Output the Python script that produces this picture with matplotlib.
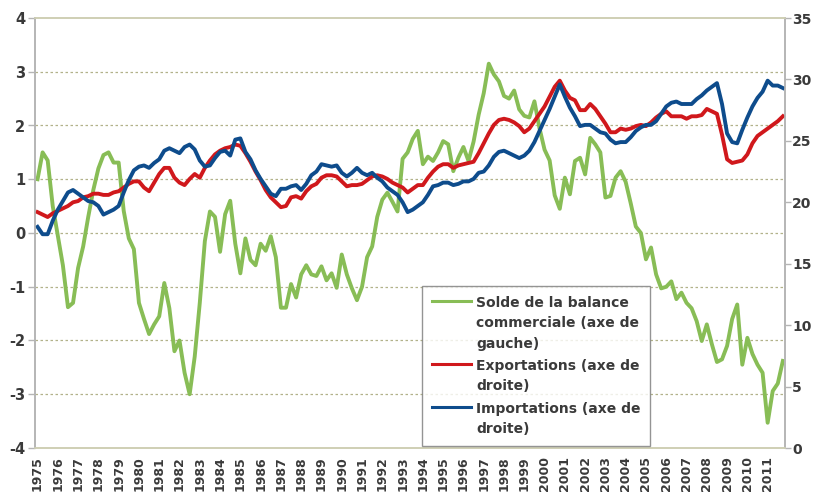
import matplotlib
matplotlib.use("Agg")
import matplotlib.pyplot as plt
import numpy as np

plt.rcParams["axes.unicode_minus"] = False

years = list(range(1975, 2012))
tick_labels = [str(y) for y in years]

solde = [1.0, 1.5, 1.35, 0.5, -0.05, -0.6, -1.38, -1.3, -0.65, -0.25,
         0.3, 0.8, 1.2, 1.45, 1.5, 1.31, 1.31, 0.41, -0.1, -0.3,
         -1.3, -1.6, -1.88, -1.7, -1.55, -0.93, -1.4, -2.2, -2.0, -2.6,
         -3.0, -2.3, -1.3, -0.15, 0.4, 0.3, -0.35, 0.35, 0.6, -0.2,
         -0.75, -0.1, -0.5, -0.6, -0.2, -0.33, -0.06, -0.45, -1.39, -1.39,
         -0.95, -1.2, -0.77, -0.6, -0.77, -0.8, -0.62, -0.88, -0.75, -1.02,
         -0.4, -0.77, -1.03, -1.25, -1.0, -0.45, -0.25, 0.3, 0.62, 0.75,
         0.58, 0.4, 1.38, 1.5, 1.75, 1.9, 1.28, 1.42, 1.34, 1.5,
         1.71, 1.65, 1.15, 1.4, 1.6, 1.34, 1.7, 2.2, 2.6, 3.15,
         2.95, 2.82, 2.55, 2.5, 2.65, 2.3, 2.18, 2.15, 2.45, 1.95,
         1.55, 1.35, 0.7, 0.45, 1.03, 0.72, 1.34, 1.4, 1.09, 1.77,
         1.65, 1.5, 0.66, 0.69, 1.03, 1.15, 0.95, 0.55, 0.12, 0.0,
         -0.49, -0.27, -0.77, -1.03, -1.0, -0.9, -1.23, -1.11, -1.3, -1.4,
         -1.64, -2.01, -1.7, -2.07, -2.4, -2.35, -2.1, -1.6, -1.33, -2.45,
         -1.95, -2.25, -2.45, -2.6, -3.53, -2.94, -2.8, -2.38]

exportations = [19.2, 19.0, 18.8, 19.1, 19.3, 19.5, 19.7, 20.0, 20.1, 20.4,
                20.5, 20.7, 20.7, 20.6, 20.6, 20.8, 20.9, 21.2, 21.5, 21.7,
                21.7, 21.2, 20.9, 21.6, 22.3, 22.8, 22.8, 22.0, 21.6, 21.4,
                21.9, 22.3, 22.0, 22.8, 23.4, 23.9, 24.2, 24.4, 24.5, 24.7,
                24.6, 24.0, 23.3, 22.5, 21.8, 21.0, 20.4, 20.0, 19.6, 19.7,
                20.4, 20.5, 20.3, 20.9, 21.3, 21.5, 22.0, 22.2, 22.2, 22.1,
                21.7, 21.3, 21.4, 21.4, 21.5, 21.8, 22.1, 22.2, 22.1, 21.9,
                21.6, 21.4, 21.2, 20.8, 21.1, 21.4, 21.4, 22.0, 22.5, 22.9,
                23.1, 23.1, 22.8, 23.0, 23.1, 23.2, 23.3, 24.0, 24.8, 25.6,
                26.3, 26.7, 26.8, 26.7, 26.5, 26.2, 25.7, 26.0, 26.6, 27.2,
                27.8, 28.6, 29.4, 29.9, 29.1, 28.5, 28.3, 27.5, 27.5, 28.0,
                27.6, 27.0, 26.4, 25.7, 25.7, 26.0, 25.9, 26.0, 26.2, 26.3,
                26.2, 26.5, 26.9, 27.2, 27.4, 27.0, 27.0, 27.0, 26.8, 27.0,
                27.0, 27.1, 27.6, 27.4, 27.2, 25.5, 23.5, 23.2, 23.3, 23.4,
                23.9, 24.8, 25.4, 25.7, 26.0, 26.3, 26.6, 27.0]

importations = [18.0, 17.4, 17.4, 18.5, 19.4, 20.1, 20.8, 21.0, 20.7, 20.4,
                20.1, 20.0, 19.7, 19.0, 19.2, 19.4, 19.7, 20.8, 21.8, 22.6,
                22.9, 23.0, 22.8, 23.2, 23.5, 24.2, 24.4, 24.2, 24.0, 24.5,
                24.7, 24.3, 23.4, 22.9, 23.0, 23.6, 24.1, 24.2, 23.8, 25.1,
                25.2, 24.1, 23.5, 22.6, 21.9, 21.3, 20.7, 20.5, 21.1, 21.1,
                21.3, 21.4, 21.0, 21.5, 22.2, 22.5, 23.1, 23.0, 22.9, 23.0,
                22.4, 22.1, 22.4, 22.8, 22.4, 22.2, 22.4, 22.0, 21.7, 21.2,
                20.9, 20.6, 20.0, 19.2, 19.4, 19.7, 20.0, 20.6, 21.3, 21.4,
                21.6, 21.6, 21.4, 21.5, 21.7, 21.7, 21.9, 22.4, 22.5, 23.0,
                23.7, 24.1, 24.2, 24.0, 23.8, 23.6, 23.8, 24.2, 24.9, 25.8,
                26.7, 27.6, 28.6, 29.6, 28.6, 27.7, 27.0, 26.2, 26.3, 26.3,
                26.0, 25.7, 25.6, 25.1, 24.8, 24.9, 24.9, 25.3, 25.8, 26.1,
                26.3, 26.3, 26.6, 27.2, 27.8, 28.1, 28.2, 28.0, 28.0, 28.0,
                28.4, 28.7, 29.1, 29.4, 29.7, 28.0, 25.6, 24.9, 24.8, 25.9,
                26.9, 27.8, 28.5, 29.0, 29.9, 29.5, 29.5, 29.3]

labels = ["Solde de la balance\ncommerciale (axe de\ngauche)",
          "Exportations (axe de\ndroite)",
          "Importations (axe de\ndroite)"]

green = "#88bd56"
red = "#d0181c"
blue = "#0e4c8c"
txt = "#3a3a3a"

fig = plt.figure(figsize=(8.13, 4.94), dpi=100)
ax = fig.add_axes([35/813, 46/494, 750.4/813, 430/494])
ax2 = ax.twinx()

x = np.arange(len(solde))
l1, = ax.plot(x, solde, color=green, lw=2.8, solid_joinstyle="round")
l2, = ax2.plot(x, exportations, color=red, lw=2.8, solid_joinstyle="round")
l3, = ax2.plot(x, importations, color=blue, lw=2.8, solid_joinstyle="round")

ax.set_xlim(-0.5, len(solde) - 0.5)
ax.set_ylim(-4, 4)
ax2.set_ylim(0, 35)
ax.set_yticks(range(-4, 5))
ax2.set_yticks(range(0, 36, 5))
ax.set_xticks(np.arange(0, len(solde), 4))
ax.set_xticklabels(tick_labels, rotation=90)

for y in range(-3, 4):
    ax.axhline(y, color="#b2b28a", lw=0.9, ls=(0, (2, 2)), zorder=0)

for a in (ax, ax2):
    a.spines["top"].set_color("#cfcfb4")
    a.spines["bottom"].set_color("#cfcfb4")
    a.spines["left"].set_color("#b5b5b5")
    a.spines["right"].set_color("#b5b5b5")
    for s in a.spines.values():
        s.set_linewidth(1.2)

ax.tick_params(axis="y", length=5, width=1, color="#b5b5b5", labelsize=10.5,
               labelcolor=txt, pad=2)
ax2.tick_params(axis="y", length=4, width=1, color="#b5b5b5", labelsize=10,
                labelcolor=txt, pad=1)
ax.tick_params(axis="x", length=0, labelsize=9, labelcolor=txt, pad=6)
for lab in ax.get_yticklabels() + ax2.get_yticklabels() + ax.get_xticklabels():
    lab.set_fontweight("bold")

leg = ax2.legend([l1, l2, l3], labels, loc="upper left",
                 bbox_to_anchor=(0.5155, 0.376), frameon=True, fancybox=False,
                 edgecolor="#7a7a7a", handlelength=2.85, handletextpad=0.35,
                 labelspacing=0.62, borderpad=0.7, borderaxespad=0,
                 prop={"weight": "bold", "size": 10})
leg.get_frame().set_linewidth(1.0)
for t in leg.get_texts():
    t.set_color(txt)
    t.set_linespacing(1.57)
for h in leg.legend_handles:
    h.set_linewidth(2.2)
try:
    for row in leg._legend_handle_box.get_children():
        for entry in row.get_children():
            entry.align = "top"
except Exception:
    pass

fig.savefig("out.png", dpi=100)
